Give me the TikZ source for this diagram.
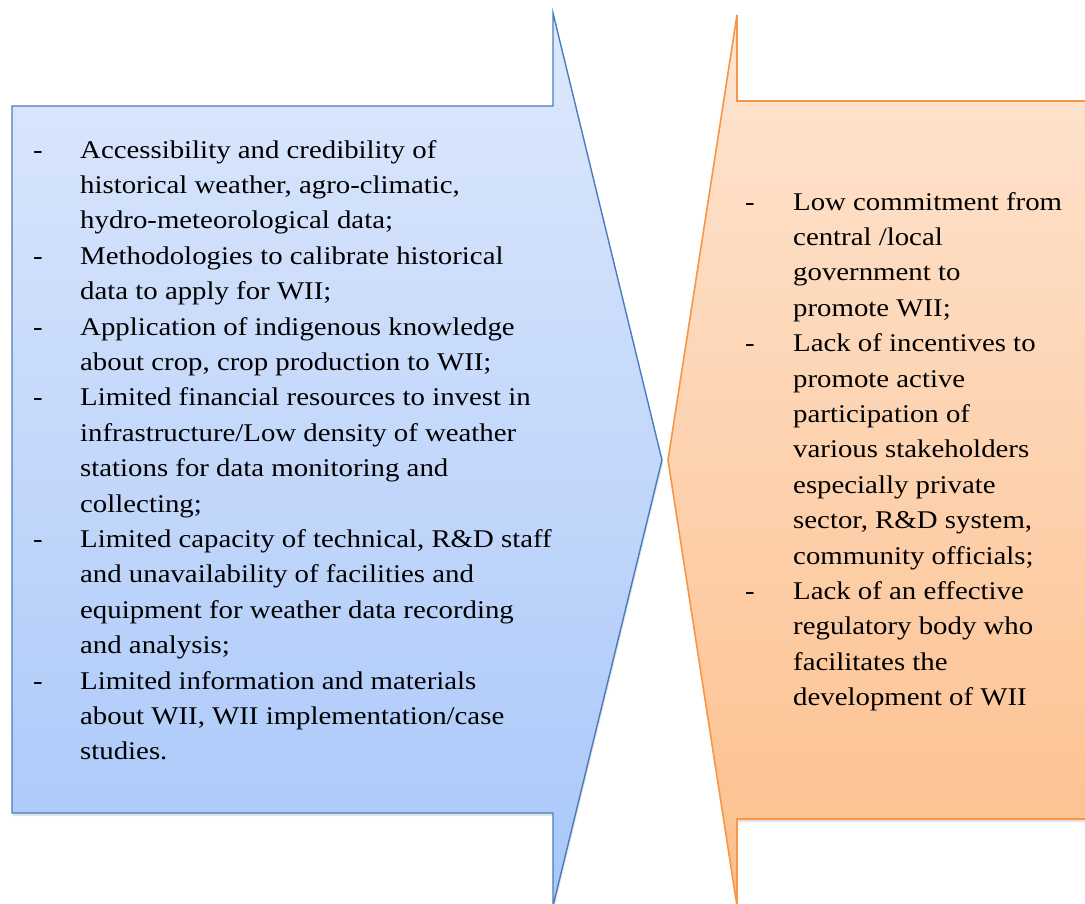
\documentclass[tikz,border=0pt]{standalone}
\usepackage{fontspec}
\setmainfont{Liberation Serif}[FakeStretch=1.13]
\usetikzlibrary{shadows}
\definecolor{bluetop}{HTML}{DDE8FC}
\definecolor{bluebot}{HTML}{A9C7F9}
\definecolor{blueline}{HTML}{4A7EBB}
\definecolor{orgtop}{HTML}{FEE5D2}
\definecolor{orgbot}{HTML}{FCBF8C}
\definecolor{orgline}{HTML}{F79646}
\tikzset{
  bluearrow/.style={draw=blueline, line width=1.4pt, line join=miter, top color=bluetop, bottom color=bluebot,
    drop shadow={opacity=0.22, shadow xshift=1pt, shadow yshift=-3pt}},
  orgarrow/.style={draw=orgline, line width=1.6pt, line join=miter, top color=orgtop, bottom color=orgbot,
    drop shadow={opacity=0.22, shadow xshift=1pt, shadow yshift=-3pt}},
  listtext/.style={inner sep=0pt, anchor=north west, font=\fontsize{25.5}{35.4}\selectfont, text=black}
}
\begin{document}
\begin{tikzpicture}[x=1pt, y=-1pt]
\useasboundingbox (0,0) rectangle (1085,904);
\fill[white] (0,0) rectangle (1085,904);
\clip (0,0) rectangle (1085,904);
% left arrow
\draw[bluearrow] (12,106) -- (553,106) -- (553,13) -- (662,460) -- (553,906) -- (553,813) -- (12,813) -- cycle;
% right arrow
\draw[orgarrow] (1100,101) -- (737,101) -- (737,15) -- (668,460) -- (737,906) -- (737,819) -- (1100,819) -- cycle;
\node[listtext] (left) at (33,133.2) {\begin{tabular}{@{}p{47pt}@{}l@{}}
- & Accessibility and credibility of\\
  & historical weather, agro-climatic,\\
  & hydro-meteorological data;\\
- & Methodologies to calibrate historical\\
  & data to apply for WII;\\
- & Application of indigenous knowledge\\
  & about crop, crop production to WII;\\
- & Limited financial resources to invest in\\
  & infrastructure/Low density of weather\\
  & stations for data monitoring and\\
  & collecting;\\
- & Limited capacity of technical, R\&D staff\\
  & and unavailability of facilities and\\
  & equipment for weather data recording\\
  & and analysis;\\
- & Limited information and materials\\
  & about WII, WII implementation/case\\
  & studies.
\end{tabular}};
\node[listtext] (right) at (745,185.2) {\begin{tabular}{@{}p{48pt}@{}l@{}}
- & Low commitment from\\
  & central /local\\
  & government to\\
  & promote WII;\\
- & Lack of incentives to\\
  & promote active\\
  & participation of\\
  & various stakeholders\\
  & especially private\\
  & sector, R\&D system,\\
  & community officials;\\
- & Lack of an effective\\
  & regulatory body who\\
  & facilitates the\\
  & development of WII
\end{tabular}};
\end{tikzpicture}
\end{document}
